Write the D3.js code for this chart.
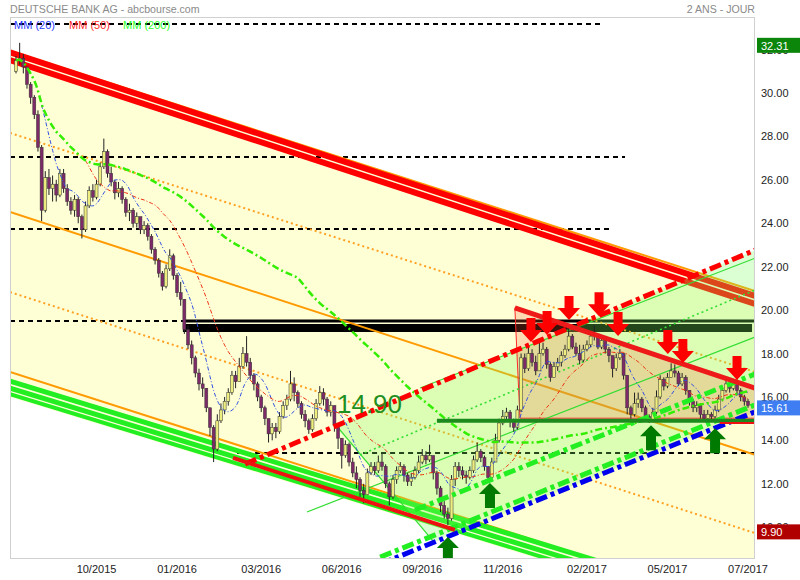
<!DOCTYPE html>
<html><head><meta charset="utf-8">
<script src="https://cdn.jsdelivr.net/npm/d3@7"></script>
<style>body{margin:0;background:#fff;} svg{display:block;font-family:Arial,"Liberation Sans",sans-serif;}</style>
</head><body><svg id="c" width="800" height="580"></svg>
<script>
// ---------------- DATA ----------------
const title = "DEUTSCHE BANK AG - abcbourse.com";
const period = "2 ANS - JOUR";
const firstOpen = 31.0;
const closes = [31.5,31.6,31.2,30.4,29.8,29.0,27.5,24.6,26.1,25.6,25.8,25.3,26.3,25.6,25.0,24.6,25.1,24.3,23.7,24.8,
25.5,25.2,25.8,26.6,27.3,26.3,25.9,25.4,25.6,25.1,24.5,24.6,24.0,24.3,23.7,23.9,23.4,22.8,22.3,21.7,
21.1,21.9,22.5,21.6,20.8,20.5,19.1,18.4,17.8,17.1,16.6,16.4,15.5,14.6,13.6,14.9,15.4,15.8,16.2,17.0,
16.7,17.4,18.0,17.6,17.0,16.6,16.0,15.5,15.0,14.3,14.6,14.4,15.1,15.6,15.9,16.6,16.2,15.7,15.2,14.9,
14.5,15.0,15.7,16.2,15.9,15.3,15.6,14.7,14.1,13.3,13.8,13.0,12.5,12.2,11.7,11.5,12.5,12.8,12.6,13.0,
12.8,12.0,11.4,12.2,12.6,12.8,12.4,12.1,12.3,12.6,13.0,13.3,13.1,13.3,12.5,11.8,11.0,10.6,10.4,12.2,
12.8,12.6,12.4,12.3,12.6,13.1,13.5,13.2,12.8,12.3,13.0,14.0,14.8,15.1,15.3,14.9,14.6,15.4,17.8,17.3,
18.0,17.6,17.2,18.0,18.2,17.5,16.9,17.4,17.6,17.9,18.2,18.8,18.3,18.0,17.7,18.2,18.4,18.8,18.9,18.3,
18.6,18.2,17.9,17.3,17.8,18.0,17.0,15.5,15.2,15.7,15.9,15.5,15.1,14.9,15.3,16.0,16.8,16.5,16.9,17.2,
17.1,16.6,16.9,16.3,15.8,15.5,15.6,15.2,15.0,15.2,15.1,15.4,15.9,16.3,16.6,16.4,16.7,16.3,16.0,15.8,
15.61];
const highs = [31.7,32.31,31.8,31.2,30.5,29.9,29.2,27.6,26.4,26.5,26.2,26.0,26.5,26.5,25.8,25.2,25.3,25.2,24.4,25.0,
25.7,25.8,26.0,26.8,27.9,27.4,26.6,26.0,25.9,25.7,25.2,24.9,24.7,24.5,24.3,24.1,24.0,23.5,22.9,22.4,
21.8,22.1,22.8,22.6,21.7,21.3,20.5,19.3,18.6,17.9,17.3,16.9,16.4,15.5,14.7,15.2,15.7,16.0,16.4,17.2,
17.2,17.8,18.3,18.8,17.8,17.1,16.7,16.1,15.6,15.0,14.8,14.8,15.3,15.8,16.1,17.2,16.9,16.3,15.8,15.4,
15.0,15.2,15.9,16.5,16.4,16.0,15.8,15.6,14.8,14.1,14.0,13.9,13.2,12.8,12.3,12.0,12.7,13.0,13.0,13.3,
13.4,12.9,12.1,12.4,12.8,13.0,12.9,12.5,12.5,12.8,13.3,13.6,13.5,13.8,13.3,12.6,11.9,11.2,10.9,12.4,
13.0,13.0,12.8,12.6,12.8,13.3,13.9,13.6,13.3,12.8,13.2,14.3,15.0,15.4,15.5,15.4,15.0,15.6,18.0,18.0,
18.3,18.2,17.9,18.7,18.5,18.3,17.6,17.6,17.8,18.1,18.4,19.2,18.9,18.5,18.4,18.4,18.6,19.0,19.3,18.9,
18.8,18.7,18.3,17.9,18.0,18.2,18.0,16.9,15.6,16.2,16.2,16.0,15.6,15.2,15.5,16.3,17.0,16.9,17.1,17.55,
17.5,17.2,17.1,17.0,16.3,15.9,15.8,15.7,15.4,15.4,15.3,15.6,16.1,16.5,16.8,16.8,16.8,16.7,16.4,16.1,
15.9];
const lows = [30.9,31.3,30.9,30.2,29.5,28.8,27.3,24.1,24.5,25.3,25.0,25.0,25.2,25.4,24.8,24.4,24.3,24.0,23.3,23.6,
24.7,25.0,25.1,25.7,26.5,26.1,25.7,25.1,25.2,24.9,24.3,24.1,23.8,23.8,23.5,23.5,23.2,22.6,22.1,21.5,
20.9,21.0,21.8,21.4,20.6,20.2,18.9,18.2,17.5,16.9,16.3,16.0,15.3,14.2,13.0,13.5,14.8,15.2,15.6,16.1,
16.4,16.8,17.3,17.4,16.8,16.3,15.8,15.3,14.7,13.9,14.0,14.1,14.3,15.0,15.4,15.8,15.8,15.5,15.0,14.6,
14.3,14.4,14.9,15.6,15.6,15.1,15.1,14.4,13.6,12.7,13.2,12.8,12.3,11.8,11.4,11.1,11.5,12.4,12.4,12.5,
12.6,11.8,11.0,11.3,12.0,12.5,12.1,11.9,11.9,12.2,12.5,12.9,12.9,13.0,12.2,11.5,10.7,10.4,10.1,10.3,
11.9,12.3,12.2,12.0,12.2,12.5,13.0,13.0,12.6,12.1,12.1,13.0,13.9,14.7,14.9,14.6,14.4,14.5,15.3,17.1,
17.2,17.4,17.0,17.2,17.9,17.3,16.7,16.9,17.2,17.4,17.8,18.1,18.2,17.9,17.5,17.6,18.1,18.3,18.6,18.2,
18.2,18.0,17.6,16.9,17.2,17.7,16.8,15.2,15.0,15.1,15.5,15.3,14.9,14.8,14.9,15.2,15.9,16.3,16.4,16.9,
16.9,16.5,16.5,16.1,15.6,15.3,15.3,15.0,14.9,14.9,14.9,15.0,15.3,15.8,16.2,16.2,16.3,16.1,15.8,15.6,
15.5];
const xTickIndex = [22,44,67,89,111,133,156,178,200];
const xTickLabels = ["10/2015","01/2016","03/2016","06/2016","09/2016","11/2016","02/2017","05/2017","07/2017"];
const yTicks = [10,12,14,16,18,20,22,24,26,28,30,32];
const maNames = ["MM (20)","MM (50)","MM (200)"];
const maWindows = [8,20,78];          // in bars (one bar ~ 2.5 sessions)
const highValue = 32.31, lastValue = 15.61, targetValue = 9.90, supportValue = 14.90;
// channel / trend lines: [index1, value1, index2, value2]
const yellowChannel = [[-1.64,32.03],[201.9,20.83],[201.9,5.49],[-1.64,16.0]];
const orangeSolid = [[-1.64,31.94,201.9,20.88],[-1.64,24.52,201.9,13.33],[-1.64,17.15,201.9,6.14]];
const orangeDotted = [[-1.64,28.16,201.9,17.15],[-1.64,20.83,201.9,9.73]];
const greenDesc = [[-1.64,16.73,201.9,6.23],[-1.64,16.41,201.9,5.91],[-1.64,16.13,201.9,5.63]];
const redBand = [[-1.64,31.87,201.9,20.65],[-1.64,31.52,201.9,20.28]];
const redSegment = [59.3,13.19,119.9,9.88];
const redResistance = [136.3,20.10,201.9,16.41];
const redZone = [[136.3,20.10],[201.9,16.41],[201.9,15.02],[137.7,15.02]];
const greenZone = [[87.2,14.66],[201.9,22.76],[201.9,15.31],[114.2,9.31]];
const dashedLevels = [[-1.64,160.4,33.18],[-1.64,166.4,27.05],[-1.64,162.8,23.73],[-1.64,201.9,19.50],[60.4,201.9,13.42]];
const blackBars = [[45.6,201.9,19.50,3],[45.6,201.1,19.17,8]];
const supportLine = [115,201.9,14.90];
const redLevel = [192.3,201.9,14.80];
const redDashDot = [62.6,12.91,201.9,22.76];
const blueDashDot = [99.5,8.30,201.9,15.31];
const greenDashDot = [[99.5,8.62,201.9,15.63],[109,10.79,201.9,17.05]];
const greenThin = [[110.4,16.41,201.9,22.39],[79.5,10.70,201.9,18.76],[87.2,14.75,114.2,9.31]];
const greenDotted = [[94,13.33,201.9,20.92]];
const downArrows = [[140.7,18.53],[145.1,18.85],[151.1,19.54],[159.3,19.72],[164.5,18.81],[178.1,17.98],[182.2,17.56],[197.0,16.78]];
const upArrows = [[118.0,9.55],[129.5,12.03],[173.5,14.70],[191.0,14.56]];

// ---------------- SCALES ----------------
const L=10,T=17,R=755,B=559;
const x = d3.scaleLinear().domain([0,200]).range([16,748]);
const y = d3.scaleLinear().domain([8.535,33.5]).range([B,T]);
const svg = d3.select("#c");
svg.append("defs").append("clipPath").attr("id","plot").append("rect")
  .attr("x",L).attr("y",T).attr("width",R-L).attr("height",B-T);
const g = svg.append("g").attr("clip-path","url(#plot)");

const poly = pts => pts.map(p=>[x(p[0]),y(p[1])]);
function seg(d, color, w, dash){
  const l = g.append("line").attr("x1",x(d[0])).attr("y1",y(d[1])).attr("x2",x(d[2])).attr("y2",y(d[3]))
   .attr("stroke",color).attr("stroke-width",w);
  if(dash) l.attr("stroke-dasharray",dash);
  return l;
}
function hline(i1,i2,v,color,w,dash){ return seg([i1,v,i2,v],color,w,dash); }

// yellow descending channel
g.append("polygon").attr("points",poly(yellowChannel).join(" ")).attr("fill","#ffffd6");

// horizontal dashed levels
dashedLevels.forEach(d=>hline(d[0],d[1],d[2],"#000",2,"5,4"));
blackBars.forEach(d=>hline(d[0],d[1],d[2],"#000",d[3]));

// descending lines
orangeDotted.forEach(d=>seg(d,"#ffa020",2,"2,3"));
orangeSolid.forEach(d=>seg(d,"#ff9a00",2));
greenDesc.forEach((d,i)=>seg(d,"#22ee22",i==2?4:5));
redBand.forEach(d=>seg(d,"#ff0000",6));

// ascending channel fill (drawn over)
g.append("polygon").attr("points",poly(greenZone).join(" ")).attr("fill","rgba(125,250,95,0.28)");

// red zone
g.append("polygon").attr("points",poly(redZone).join(" ")).attr("fill","rgba(255,90,60,0.22)")
  .attr("stroke","#ff2a2a").attr("stroke-width",1);

// ascending thin lines
greenThin.forEach(d=>seg(d,"#33dd33",1.2));
greenDotted.forEach(d=>seg(d,"#33dd33",1.6,"2,3"));

// candles
const candles = closes.map((c,i)=>{
  const o = i===0?firstOpen:closes[i-1];
  return {i,o,c,h:Math.max(highs[i],o,c),l:Math.min(lows[i],o,c)};
});
const cg = g.append("g");
cg.selectAll("line.w").data(candles).join("line").attr("class","w")
  .attr("x1",d=>x(d.i)).attr("x2",d=>x(d.i)).attr("y1",d=>y(d.h)).attr("y2",d=>y(d.l))
  .attr("stroke","#222").attr("stroke-width",1);
cg.selectAll("rect").data(candles).join("rect")
  .attr("x",d=>x(d.i)-1.5).attr("width",3)
  .attr("y",d=>y(Math.max(d.o,d.c))).attr("height",d=>Math.max(1,Math.abs(y(d.o)-y(d.c))))
  .attr("fill",d=>d.c>=d.o?"#eeee80":"#7e2a68").attr("stroke","#333").attr("stroke-width",0.5);

// moving averages
function sma(w, partial){
  return closes.map((c,i)=>{
    if(i<w-1 && !partial) return null;
    const s = closes.slice(Math.max(0,i-w+1),i+1);
    return {i, v:d3.mean(s)};
  }).filter(d=>d);
}
const line = d3.line().x(d=>x(d.i)).y(d=>y(d.v)).curve(d3.curveBasis);
const maStyles = [["#3050e0",1,"4,2,1,2"],["#ee3311",1,"4,2,1,2"],["#33ee00",2.5,"7,3,2,3"]];
maWindows.forEach((w,k)=>{
  g.append("path").datum(sma(w,k===2)).attr("d",line).attr("fill","none")
   .attr("stroke",maStyles[k][0]).attr("stroke-width",maStyles[k][1]).attr("stroke-dasharray",maStyles[k][2]);
});

// thick ascending dash-dot lines
greenDashDot.forEach(d=>seg(d,"#22ee22",5,"12,4,4,4"));
seg(blueDashDot,"#0000ee",5,"12,4,4,4");
seg(redDashDot,"#ff0000",5,"12,4,4,4");

// red lines
seg(redSegment,"#ee1111",4);
seg(redResistance,"#ee1a1a",5);

// support line + label
hline(supportLine[0],supportLine[1],supportLine[2],"#1d8a1d",4);
hline(redLevel[0],redLevel[1],redLevel[2],"#ee1111",2);
g.append("text").attr("x",x(87.7)).attr("y",y(supportValue)-8).attr("font-size",26)
  .attr("fill","#1f8f1f").text(supportValue.toFixed(2));

// arrows
const ag = svg.append("g");
downArrows.forEach(a=>{
  const tx=x(a[0]), ty=y(a[1]);
  ag.append("path").attr("fill","#ff0000")
    .attr("d",`M${tx},${ty}L${tx-11},${ty-12}L${tx-4.5},${ty-12}L${tx-4.5},${ty-24}L${tx+4.5},${ty-24}L${tx+4.5},${ty-12}L${tx+11},${ty-12}Z`);
});
upArrows.forEach(a=>{
  const tx=x(a[0]), ty=y(a[1]);
  ag.append("path").attr("fill","#007a00").attr("clip-path","url(#plot)")
    .attr("d",`M${tx},${ty}L${tx-11},${ty+11}L${tx-5},${ty+11}L${tx-5},${ty+25}L${tx+5},${ty+25}L${tx+5},${ty+11}L${tx+11},${ty+11}Z`);
});

// frame
svg.append("rect").attr("x",L+0.5).attr("y",T+0.5).attr("width",R-L-1).attr("height",B-T-1)
  .attr("fill","none").attr("stroke","#d0d0d0");

// legend (under top dashed line)
const lg = svg.append("g").attr("font-size",11);
const legendX=[14,69,123], legendC=["#2a3cff","#ff2a2a","#2aff2a"];
maNames.forEach((n,k)=>lg.append("text").attr("x",legendX[k]).attr("y",29).attr("fill",legendC[k]).text(n));
hline(dashedLevels[0][0],dashedLevels[0][1],dashedLevels[0][2],"#000",2,"5,4").raise();

// titles
svg.append("text").attr("x",10).attr("y",13).attr("font-size",10.6).attr("fill","#8a8a8a").text(title);
svg.append("text").attr("x",755).attr("y",13).attr("font-size",10.6).attr("fill","#8a8a8a").attr("text-anchor","end").text(period);

// y axis labels (the two extreme ones sit partly behind the value tags, as in the original)
const ya = svg.append("g").attr("font-size",11).attr("fill","#222");
yTicks.forEach(v=>ya.append("text").attr("x",761).attr("y",y(v)+4).text(v.toFixed(2)));
// x axis labels
const xa = svg.append("g").attr("font-size",11).attr("fill","#222").attr("text-anchor","middle");
xTickIndex.forEach((t,k)=>xa.append("text").attr("x",x(t)).attr("y",573).text(xTickLabels[k]));

// value tags
[[highValue,"#0b860b"],[lastValue,"#3e7ef2"],[targetValue,"#b00000"]].forEach(([v,c])=>{
  svg.append("rect").attr("x",757).attr("y",y(v)-5).attr("width",43).attr("height",15).attr("fill",c);
  svg.append("text").attr("x",761).attr("y",y(v)+7).attr("font-size",11).attr("fill","#fff").text(v.toFixed(2));
});
</script></body></html>
